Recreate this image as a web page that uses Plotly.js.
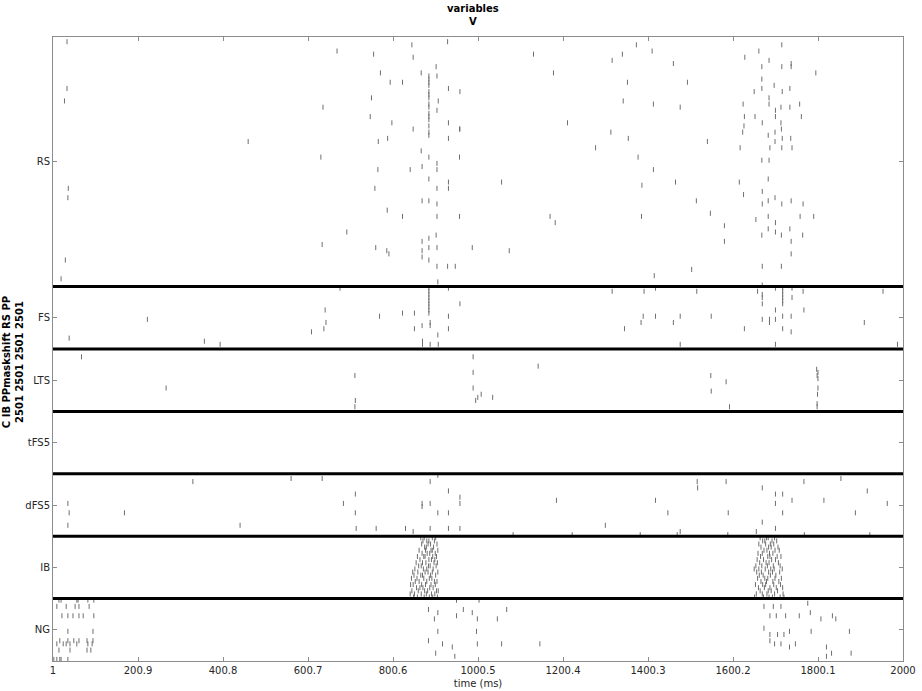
<!DOCTYPE html>
<html><head><meta charset="utf-8">
<script src="https://cdn.plot.ly/plotly-3.0.1.min.js"></script>
<style>html,body{margin:0;padding:0;background:#fff}#chart{width:922px;height:691px}</style>
</head><body><div id="chart"></div>
<script>
// groups listed bottom-up
const groupNames = ['NG', 'IB', 'dFS5', 'tFS5', 'LTS', 'FS', 'RS'];
const groupSizes = [20, 20, 20, 20, 20, 20, 80];
const xTickVals = [1, 200.9, 400.8, 600.7, 800.6, 1000.5, 1200.4, 1400.3, 1600.2, 1800.1, 2000];
const xTickText = ['1', '200.9', '400.8', '600.7', '800.6', '1000.5', '1200.4', '1400.3', '1600.2', '1800.1', '2000'];

// spikes: [time (ms), cell index]
const rsSpikes = [
  [34,198],[669,195],[755,194],[845,197],[848,193],[929,198],[902,190],[771,188],[867,188],[904,187],
  [794,185],[823,185],[34,183],[931,183],[28,179],[750,180],[907,179],[904,176],[636,177],[747,174],
  [798,172],[931,172],[848,170],[957,170],[788,167],[766,166],[931,167],[460,166],[867,163],[885,161],
  [957,161],[631,161],[904,159],[765,157],[841,157],[869,158],[904,157],[885,154],[931,153],[37,151],
  [758,151],[904,151],[931,151],[36,148],[885,147],[869,147],[904,146],[787,144],[823,142],[904,142],
  [957,142],[692,137],[902,136],[885,135],[869,134],[634,133],[760,132],[885,132],[904,132],[869,131],
  [786,131],[791,130],[30,128],[869,129],[885,128],[904,126],[929,126],[947,126],[20,122],[906,121],
  [885,187],[885,186],[885,185],[885,184],[885,182],[885,181],[885,180],[885,178],[885,177],[885,175],
  [885,174],[885,173],[885,171],[885,169],[885,168],
  [1131,194],[1373,197],[1410,195],[1340,194],[1316,192],[1460,191],[1628,193],[1661,195],[1715,197],
  [1685,192],[1668,190],[1715,190],[1737,191],[1737,190],[1178,188],[1795,188],[1352,185],[1493,185],
  [1668,186],[1650,182],[1668,183],[1697,184],[1716,182],[1734,183],[1685,180],[958,182],[1342,179],
  [1413,178],[1476,177],[1624,178],[1685,178],[1713,177],[1734,177],[1757,178],[1700,176],[1627,174],
  [1652,174],[1700,174],[1761,174],[1211,172],[1669,172],[1713,172],[1626,171],[958,170],[1313,169],
  [1623,169],[1699,169],[1714,170],[1354,167],[1683,168],[1716,167],[1736,167],[1540,166],[1699,166],
  [1277,164],[1617,164],[1687,164],[1715,164],[1739,164],[1377,161],[1668,160],[1685,160],[1413,157],
  [1683,154],[1056,153],[1386,152],[1465,153],[1615,153],[1669,150],[1625,149],[1699,148],[1683,147],
  [1715,146],[1737,147],[1669,146],[1765,146],[1514,147],[1547,143],[1170,142],[1182,140],[1385,142],
  [1654,141],[1683,142],[1758,142],[1790,142],[1700,140],[1580,139],[1683,138],[1734,138],[1668,136],
  [1700,137],[1714,136],[1764,136],[1580,134],[1737,134],[987,132],[1074,131],[1737,130],[1669,126],
  [1714,126],[1503,125],[1415,123],[1669,120]
];
const fsSpikes = [
  [676,119],[885,119],[885,118],[885,117],[885,116],[885,115],[885,114],[885,113],[885,112],[885,111],
  [931,119],[641,112],[643,108],[638,106],[609,105],[769,110],[823,111],[851,111],[851,106],[869,107],
  [870,102],[870,101],[888,108],[888,107],[906,104],[888,101],[907,101],[931,110],[931,106],[223,109],
  [39,103],[357,102],[394,101],
  [958,114],[1316,118],[1391,118],[1418,119],[1515,118],[1658,118],[1669,117],[1669,116],[1669,114],
  [1700,119],[1717,119],[1717,118],[1717,117],[1717,116],[1717,115],[1717,114],[1739,119],[1739,116],
  [1765,118],[1953,118],[1700,112],[1767,112],[1389,110],[1384,108],[1418,110],[1460,108],[1476,110],
  [1549,110],[1669,109],[1686,109],[1686,108],[1700,109],[1717,110],[1737,110],[1909,108],[1345,106],
  [1627,106],[1717,106],[1737,105],[1476,101],[1700,101],[1987,101]
];
const ltsSpikes = [
  [68,97],[711,91],[267,87],[712,83],[711,81],[989,97],[989,92],[989,87],[995,83],[1000,84],
  [1008,85],[1035,84],[1142,94],[1548,91],[1549,86],[1584,89],[1592,81],
  [1797,93],[1800,92],[1798,91],[1800,90],[1800,87],[1799,85],[1798,82],[1798,81]
];
const tfs5Spikes = [];
const dfs5Spikes = [
  [330,57],[561,58],[634,58],[888,57],[906,59],[931,54],[712,53],[36,50],[169,47],[684,50],
  [869,50],[869,49],[888,50],[931,47],[906,47],[39,47],[712,47],[36,43],[441,43],[714,42],
  [761,42],[830,42],[848,41],[888,42],[931,42],
  [1516,57],[1517,55],[1584,57],[1669,55],[1767,57],[1854,58],[1916,54],[958,52],[958,50],[1185,51],
  [1418,51],[1700,53],[1717,53],[1739,51],[1814,51],[1700,50],[1963,50],[1447,47],[1589,47],[1717,47],
  [1888,47],[1300,43],[1669,44],[1476,41],[1655,41],[1700,42],[958,42],
  [1083,40],[1222,40],[1382,40],[1469,40],[1588,40],[1768,40],[1922,40]
];
// IB: [cell, [spike times]]
const ibRows = [
  [39,[866,874,893,901, 1664,1679,1683,1698]],
  [38,[871,880,885,898, 1670,1675,1692,1703]],
  [37,[868,883,889,904, 1661,1677,1688,1696]],
  [36,[875,879,896, 1666,1684,1690,1706]],
  [35,[862,877,890,893,906, 1673,1680,1699,1709]],
  [34,[869,881,887,900, 1659,1669,1686,1694]],
  [33,[858,873,876,894,903, 1665,1682,1687,1704,1713]],
  [32,[864,885,891,899, 1657,1672,1691,1700]],
  [31,[855,870,878,897,905, 1663,1678,1685,1707]],
  [30,[861,867,884,888,902, 1654,1668,1681,1695,1711]],
  [29,[852,872,880,895, 1650,1661,1676,1689,1697,1716]],
  [28,[847,859,876,883,893,906, 1656,1667,1684,1693,1710]],
  [27,[850,866,870,889,901, 1662,1671,1688,1701]],
  [26,[844,857,873,886,892, 1658,1675,1682,1699,1714]],
  [25,[853,862,880,898,904, 1666,1679,1694,1708]],
  [24,[842,848,868,877,890,900, 1653,1670,1677,1696,1712]],
  [23,[856,864,871,887,895, 1660,1674,1687,1702,1717]],
  [22,[845,860,875,882,903,907, 1664,1683,1690,1705]],
  [21,[841,851,867,879,891,899, 1655,1669,1680,1698,1718]],
  [20,[849,858,874,886,894,905, 1651,1672,1685,1693,1711,1720]]
];
const ngSpikes = [
  [15,19],[20,19],[57,19],[60,19],[83,19],[97,19],
  [10,17],[32,17],[53,17],[62,17],[86,17],
  [22,14],[36,14],[48,14],[62,14],[72,14],[97,14],
  [36,9],[95,9],
  [17,6],[36,6],[50,6],[62,6],[81,6],[95,6],
  [10,5],[25,5],[32,5],[41,5],[57,5],[83,5],[93,5],
  [15,3],[41,3],[81,3],[90,3],
  [3,0],[10,0],[17,0],[20,0],[36,0],
  [884,16],[906,15],[950,19],[950,14],[898,13],[906,9],[884,6],[917,5],[940,4],[901,2],[946,1],
  [1003,19],[966,16],[987,15],[999,13],[997,9],[999,5],[1068,16],[1046,13],[1056,5],[1146,5],
  [1673,17],[1695,17],[1713,17],[1687,14],[1702,14],[1724,14],[1756,14],[1776,18],[1782,15],[1807,13],
  [1834,14],[1842,13],[1673,10],[1687,8],[1705,8],[1720,8],[1733,9],[1784,9],[1874,9],[1687,6],
  [1698,5],[1713,5],[1733,4],[1747,5],[1820,4],[1832,2],[1878,2],[1820,1]
];

// ---- build ----
const all = [].concat(rsSpikes, fsSpikes, ltsSpikes, tfs5Spikes, dfs5Spikes, ngSpikes);
ibRows.forEach(r => r[1].forEach(t => all.push([t, r[0]])));
const xs = all.map(p => p[0]);
const ys = all.map(p => p[1] + 0.5);

const bounds = [];
const centers = [];
let acc = 0;
groupSizes.forEach((s, i) => { centers.push(acc + s / 2); acc += s; if (i < groupSizes.length - 1) bounds.push(acc); });
const totalCells = acc;

const shapes = bounds.map(b => ({type: 'line', xref: 'paper', x0: 0, x1: 1, yref: 'y', y0: b, y1: b,
  line: {color: '#000', width: 3}}));

const font = {family: 'DejaVu Sans', size: 10, color: '#262626'};
const axisCommon = {showgrid: false, zeroline: false, showline: true, mirror: 'ticks', linecolor: '#8c8c8c',
  linewidth: 1, ticks: 'inside', ticklen: 4, tickcolor: '#8c8c8c', tickfont: font};

const trace = {type: 'scatter', mode: 'markers', x: xs, y: ys, hoverinfo: 'skip',
  marker: {symbol: 'line-ns', size: 3.6, color: '#6e6e6e', line: {color: '#6e6e6e', width: 1}}};

const layout = {
  width: 922, height: 691, paper_bgcolor: '#fff', plot_bgcolor: '#fff', showlegend: false,
  margin: {l: 53, r: 19, t: 37, b: 30},
  title: {text: '<b>variables</b><br><b>V</b>', font: {family: 'DejaVu Sans', size: 10, color: '#000'},
    xref: 'paper', x: 0.494, xanchor: 'center', yref: 'container', y: 0.9826, yanchor: 'middle'},
  xaxis: Object.assign({}, axisCommon, {range: [1, 2000], tickmode: 'array', tickvals: xTickVals, ticktext: xTickText,
    title: {text: 'time (ms)', font: font, standoff: 4}}),
  yaxis: Object.assign({}, axisCommon, {range: [0, totalCells], tickmode: 'array', tickvals: centers, ticktext: groupNames}),
  shapes: shapes,
  annotations: [{text: '<b>C IB PPmaskshift RS PP</b><br><b>2501 2501 2501 2501</b>', textangle: -90,
    xref: 'paper', yref: 'paper', x: -0.047, y: 0.479, xanchor: 'center', yanchor: 'middle', showarrow: false,
    font: {family: 'DejaVu Sans', size: 10, color: '#000'}}]
};
Plotly.newPlot('chart', [trace], layout, {staticPlot: true, displayModeBar: false});
</script></body></html>
